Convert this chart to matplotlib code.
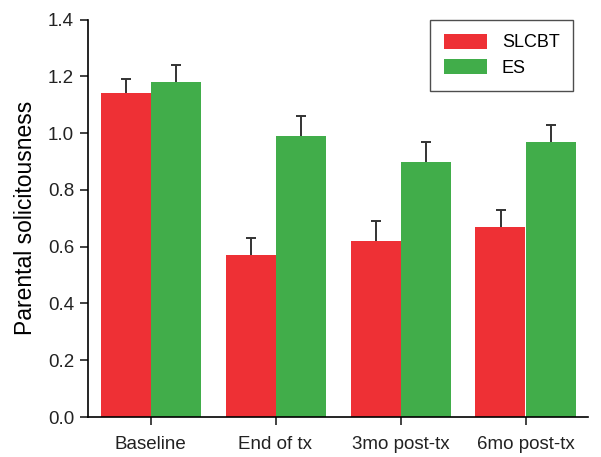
import matplotlib
matplotlib.use("Agg")
import matplotlib.pyplot as plt
import numpy as np

plt.rcParams['font.family'] = ['Liberation Sans', 'DejaVu Sans']

categories = ["Baseline", "End of tx", "3mo post-tx", "6mo post-tx"]
slcbt = [1.14, 0.57, 0.62, 0.67]
slcbt_err = [0.05, 0.06, 0.07, 0.06]
es = [1.18, 0.99, 0.90, 0.97]
es_err = [0.06, 0.07, 0.07, 0.06]
yticks = [0.0, 0.2, 0.4, 0.6, 0.8, 1.0, 1.2, 1.4]

red = "#EE3035"
green = "#41AD4A"

fig = plt.figure(figsize=(6.01, 4.57), dpi=100)
ax = fig.add_axes([88/601, 1-417/457, 500/601, (417-19.6)/457])

x = np.arange(len(categories))
w = 0.4
ekw = dict(ecolor="#333333", elinewidth=1.4, capsize=3.6, capthick=1.4)
b1 = ax.bar(x - w/2, slcbt, w, color=red, label="SLCBT",
            yerr=[np.zeros(4), slcbt_err], error_kw=ekw, zorder=2)
b2 = ax.bar(x + w/2, es, w, color=green, label="ES",
            yerr=[np.zeros(4), es_err], error_kw=ekw, zorder=2)
# show only the upper caps
for b in (b1, b2):
    caps = b.errorbar.lines[1]
    caps[0].set_visible(False)

ax.set_xlim(-0.5, 3.5)
ax.set_ylim(0, 1.4)
ax.set_yticks(yticks)
ax.set_yticklabels([f"{v:.1f}" for v in yticks])
ax.set_xticks(x)
ax.set_xticklabels(categories)
ax.spines['top'].set_visible(False)
ax.spines['right'].set_visible(False)
ax.spines['left'].set_linewidth(1.2)
ax.spines['bottom'].set_linewidth(1.2)
ax.tick_params(axis='both', labelsize=13.5, length=6, width=1.2, colors='#222222')
ax.tick_params(axis='x', pad=8)
ax.tick_params(axis='y', pad=4)
ax.set_ylabel("Parental solicitousness", fontsize=16.5, labelpad=8)

leg = ax.legend(loc='upper right', bbox_to_anchor=(573/601, 1-20/457),
                bbox_transform=fig.transFigure, fontsize=13,
                fancybox=False, edgecolor='#222222', handlelength=2.4,
                handleheight=0.9, borderpad=0.75, labelspacing=0.45,
                handletextpad=0.8, borderaxespad=0)
leg.get_frame().set_linewidth(1.0)

fig.savefig("out.png", dpi=100)
